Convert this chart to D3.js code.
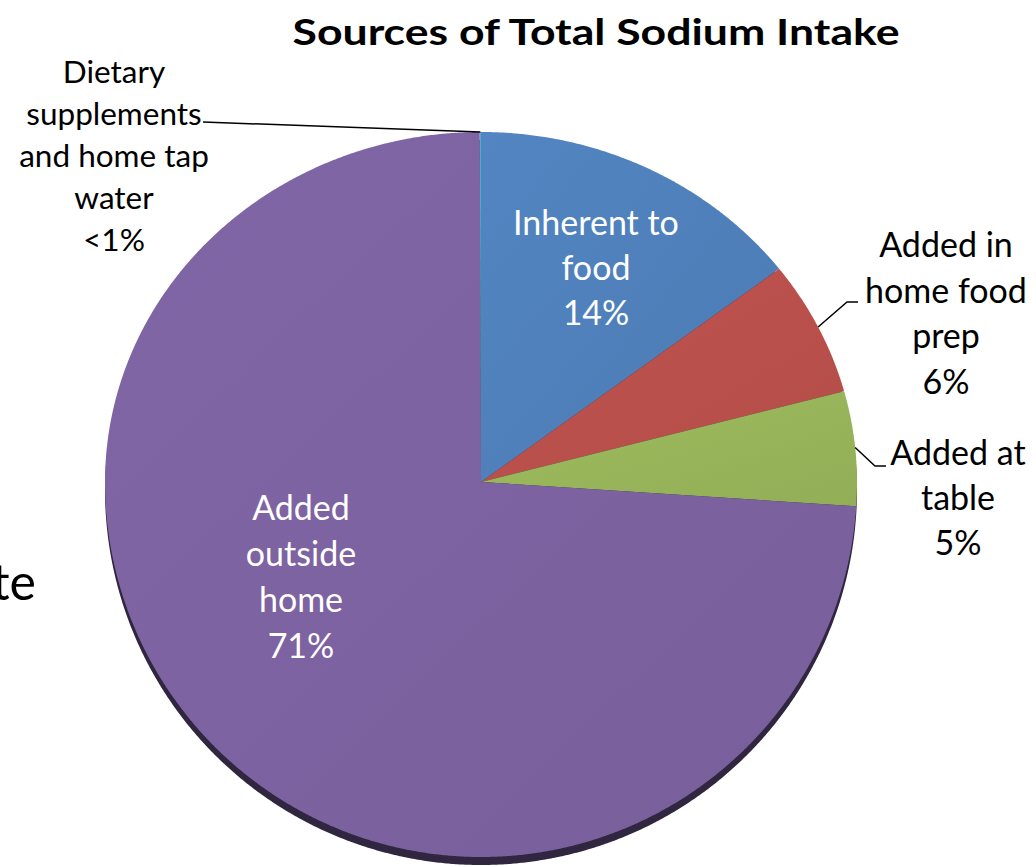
<!DOCTYPE html>
<html>
<head>
<meta charset="utf-8">
<script src="https://cdn.jsdelivr.net/npm/d3@7"></script>
<style>
	body { margin: 0; background: #fff; }
	text { font-family: Lato, "Open Sans", sans-serif; }
</style>
</head>
<body>
<div id="chart"></div>
<script>
// Chart data
var categories = ["Inherent to food", "Added in home food prep", "Added at table", "Added outside home", "Dietary supplements and home tap water"];
var values = [14, 6, 5, 71, 0.05];
var valueLabels = ["14%", "6%", "5%", "71%", "<1%"];
var labelLines = [
	["Inherent to", "food"],
	["Added in", "home food", "prep"],
	["Added at", "table"],
	["Added", "outside", "home"],
	["Dietary", "supplements", "and home tap", "water"]
];
var colors = ["#4F7FBA", "#B9504C", "#97B45A", "#7C62A0", "#4BACC6"];

var width = 1036, height = 867;
var cx = 481, cy = 482, R = 376;
// slight tilt: the top half of the pie is squashed compared with the bottom half
var kTop = 350 / 376, kBot = 375 / 376;

function proj(a, r){
	var c = Math.cos(a);
	return [cx + r * Math.sin(a), cy - r * c * (c > 0 ? kTop : kBot)];
}

var svg = d3.select("#chart").append("svg")
	.attr("width", width)
	.attr("height", height);

var pie = d3.pie().sort(null).value(function(d){ return d; });
var arcs = pie(values);

var line = d3.line();

function slicePath(d){
	var pts = [[cx, cy]];
	var steps = Math.max(2, Math.ceil((d.endAngle - d.startAngle) / 0.005));
	for(var i = 0; i <= steps; i++){
		var a = d.startAngle + (d.endAngle - d.startAngle) * i / steps;
		pts.push(proj(a, R));
	}
	return line(pts) + "Z";
}

// Shadow under the pie
svg.append("path")
	.attr("d", slicePath({startAngle: 0, endAngle: 2 * Math.PI}))
	.attr("transform", "translate(0,8)")
	.attr("fill", "#30263F");

// Gradient for a little lighting
var defs = svg.append("defs");
colors.forEach(function(c, i){
	var g = defs.append("linearGradient")
		.attr("id", "grad" + i)
		.attr("x1", "0%").attr("y1", "0%")
		.attr("x2", "100%").attr("y2", "100%");
	g.append("stop").attr("offset", "0%").attr("stop-color", d3.color(c).brighter(0.12));
	g.append("stop").attr("offset", "100%").attr("stop-color", d3.color(c).darker(0.1));
});

svg.selectAll("path.slice")
	.data(arcs)
	.enter()
	.append("path")
	.attr("class", "slice")
	.attr("d", slicePath)
	.attr("fill", function(d, i){ return "url(#grad" + i + ")"; });

// Title
svg.append("text")
	.attr("x", 596)
	.attr("y", 45)
	.attr("text-anchor", "middle")
	.attr("font-size", 36)
	.attr("font-weight", "bold")
	.attr("textLength", 607)
	.attr("lengthAdjust", "spacingAndGlyphs")
	.text("Sources of Total Sodium Intake");

// Stray text from the slide behind
svg.append("text")
	.attr("x", 36)
	.attr("y", 600)
	.attr("text-anchor", "end")
	.attr("font-size", 50)
	.text("te");

// Label layout: center x, first line baseline, line spacing, font size, colour, leader elbow
var labelPos = [
	{x: 596, y: 235, dy: 45, size: 34, fill: "#fff"},
	{x: 946, y: 257, dy: 45.5, size: 34, fill: "#000", elbow: [[847, 302], [858, 302]]},
	{x: 958, y: 465, dy: 45, size: 34, fill: "#000", elbow: [[875, 466], [886, 466]]},
	{x: 301, y: 520, dy: 46, size: 34, fill: "#fff"},
	{x: 114, y: 83, dy: 42, size: 31.5, fill: "#000", elbow: [[203, 122]]}
];

arcs.forEach(function(d, i){
	var p = labelPos[i];
	var lines = labelLines[i].concat([valueLabels[i]]);
	var t = svg.append("text")
		.attr("text-anchor", "middle")
		.attr("font-size", p.size)
		.attr("fill", p.fill);
	lines.forEach(function(s, j){
		t.append("tspan")
			.attr("x", p.x)
			.attr("y", p.y + j * p.dy)
			.text(s);
	});
	if(p.elbow){
		var mid = (d.startAngle + d.endAngle) / 2;
		var pts = [proj(mid, R)].concat(p.elbow);
		svg.append("path")
			.attr("d", line(pts))
			.attr("fill", "none")
			.attr("stroke", "#000")
			.attr("stroke-width", 1.5);
	}
});
</script>
</body>
</html>
